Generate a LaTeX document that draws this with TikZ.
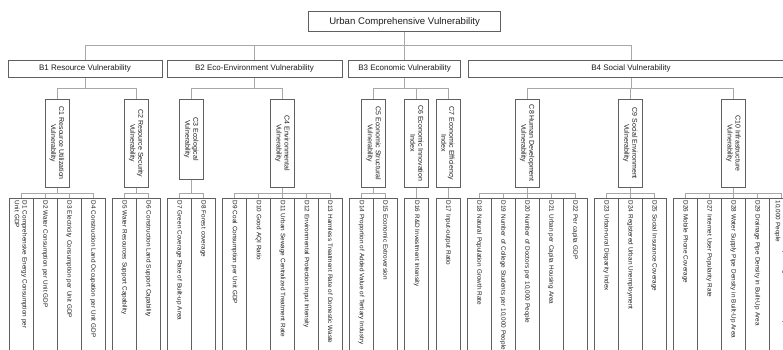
\documentclass[tikz,border=0pt]{standalone}
\usepackage{fontspec}
\setmainfont{Liberation Sans}
\usetikzlibrary{calc}
\definecolor{boxline}{HTML}{606060}
\definecolor{linkline}{HTML}{A8A8A8}
\definecolor{ink}{HTML}{1E1E1E}

\tikzset{
  boxbase/.style={draw=boxline, line width=0.8pt, fill=white, text=ink},
  topbox/.style={boxbase, minimum width=191.5pt, minimum height=20pt, inner sep=1pt,
    font=\fontsize{9.6}{11}\selectfont},
  bnode/.style={boxbase, minimum height=17.3pt, inner sep=1pt,
    font=\fontsize{8}{9.6}\selectfont},
  cbox/.style={boxbase, rotate=-90, minimum height=24pt, inner sep=0.5pt, align=center,
    font=\fontsize{7}{8}\selectfont},
  dbox/.style={boxbase, rotate=-90, anchor=west, minimum height=24pt, minimum width=170pt,
    inner sep=2pt, text width=166pt, align=left, font=\fontsize{6.35}{7.8}\selectfont},
  link/.style={draw=linkline, line width=0.8pt},
}

\begin{document}
\begin{tikzpicture}[x=1pt,y=-1pt]
\useasboundingbox (0,0) rectangle (783,349);
\clip (0,0) rectangle (783,349);
\fill[white] (0,0) rectangle (783,349);

% levels of the connector buses
\coordinate (busA) at (0,45.7);
\coordinate (busB) at (0,88.3);
\coordinate (busC) at (0,193.3);

% goal
\node[topbox] (top) at (404.6,21.7) {Urban Comprehensive Vulnerability};

% criteria
\node[bnode, minimum width=154pt] (b1) at (85,68.7) {B1 Resource Vulnerability};
\node[bnode, minimum width=175pt] (b2) at (254.5,68.7) {B2 Eco-Environment Vulnerability};
\node[bnode, minimum width=112pt] (b3) at (404.6,68.7) {B3 Economic Vulnerability};
\node[bnode, minimum width=326pt] (b4) at (631,68.7) {B4 Social Vulnerability};

% sub-criteria
\node[cbox, minimum width=88pt] (c1) at (57,143.3) {C1 Resource Utilization\\Vulnerability};
\node[cbox, minimum width=88pt] (c2) at (136.15,143.3) {C2 Resource Security\\Vulnerability};
\node[cbox, minimum width=80pt] (c3) at (191.3,139.3) {C3 Ecological\\Vulnerability};
\node[cbox, minimum width=88pt] (c4) at (282.45,143.3) {C4 Environmental\\Vulnerability};
\node[cbox, minimum width=88pt] (c5) at (373.6,143.3) {C5 Economic Structural\\Vulnerability};
\node[cbox, minimum width=88pt] (c6) at (416.75,143.3) {C6 Economic Innovation\\Index};
\node[cbox, minimum width=88pt] (c7) at (447.9,143.3) {C7 Economic Efficiency\\Index};
\node[cbox, minimum width=88pt] (c8) at (527.05,143.3) {C8 Human Development\\Vulnerability};
\node[cbox, minimum width=88pt] (c9) at (630.2,143.3) {C9 Social Environment\\Vulnerability};
\node[cbox, minimum width=88pt] (c10) at (733.35,143.3) {C10 Infrastructure\\Vulnerability};

% indicators
\foreach \i/\x/\t in {
  1/21/{D1 Comprehensive Energy Consumption per\\Unit GDP},
  2/45/{D2 Water Consumption per Unit GDP},
  3/69/{D3 Electricity Consumption per Unit GDP},
  4/93/{D4 Construction Land Occupation per Unit GDP},
  5/124.15/{D5 Water Resources Support Capability},
  6/148.15/{D6 Construction Land Support Capability},
  7/179.3/{D7 Green Coverage Rate of Built-up Area},
  8/203.3/{D8 Forest coverage},
  9/234.45/{D9 Coal Consumption per Unit GDP},
  10/258.45/{D10 Good AQI Ratio},
  11/282.45/{D11 Urban Sewage Centralized Treatment Rate},
  12/306.45/{D12 Environmental Protection Input Intensity},
  13/330.45/{D13 Harmless Treatment Rate of Domestic Waste},
  14/361.6/{D14 Proportion of Added Value of Tertiary Industry},
  15/385.6/{D15 Economic Extroversion},
  16/416.75/{D16 R\&D Investment Intensity},
  17/447.9/{D17 Input-output Ratio},
  18/479.05/{D18 Natural Population Growth Rate},
  19/503.05/{D19 Number of College Students per 10,000 People},
  20/527.05/{D20 Number of Doctors per 10,000 People},
  21/551.05/{D21 Urban per Capita Housing Area},
  22/575.05/{D22 Per capita GDP},
  23/606.2/{D23 Urban-rural Disparity Index},
  24/630.2/{D24 Registered Urban Unemployment},
  25/654.2/{D25 Social Insurance Coverage},
  26/685.35/{D26 Mobile Phone Coverage},
  27/709.35/{D27 Internet User Popularity Rate},
  28/733.35/{D28 Water Supply Pipe Density in Built-Up Area},
  29/757.35/{D29 Drainage Pipe Density in Built-Up Area},
  30/781.35/{D30 Number of Operating Public Vehicles per\\10,000 People}}
  \node[dbox] (d\i) at (\x,198.3) {\t};

% goal to criteria
\foreach \b in {1,...,4}
  \draw[link] (top.south) -- (top.south |- busA) -| (b\b.north);

% criteria to sub-criteria (west anchor of a turned box is its top)
\foreach \b/\c in {1/1,1/2,2/3,2/4,3/5,3/6,3/7,4/8,4/9,4/10}
  \draw[link] (b\b.south) -- (b\b.south |- busB) -| (c\c.west);

% sub-criteria to indicators (east anchor of a turned box is its bottom)
\foreach \c/\d in {1/1,1/2,1/3,1/4,2/5,2/6,3/7,3/8,4/9,4/10,4/11,4/12,4/13,
                   5/14,5/15,6/16,7/17,8/18,8/19,8/20,8/21,8/22,9/23,9/24,9/25,
                   10/26,10/27,10/28,10/29,10/30}
  \draw[link] (c\c.east) -- (c\c.east |- busC) -| (d\d.west);
\end{tikzpicture}
\end{document}
